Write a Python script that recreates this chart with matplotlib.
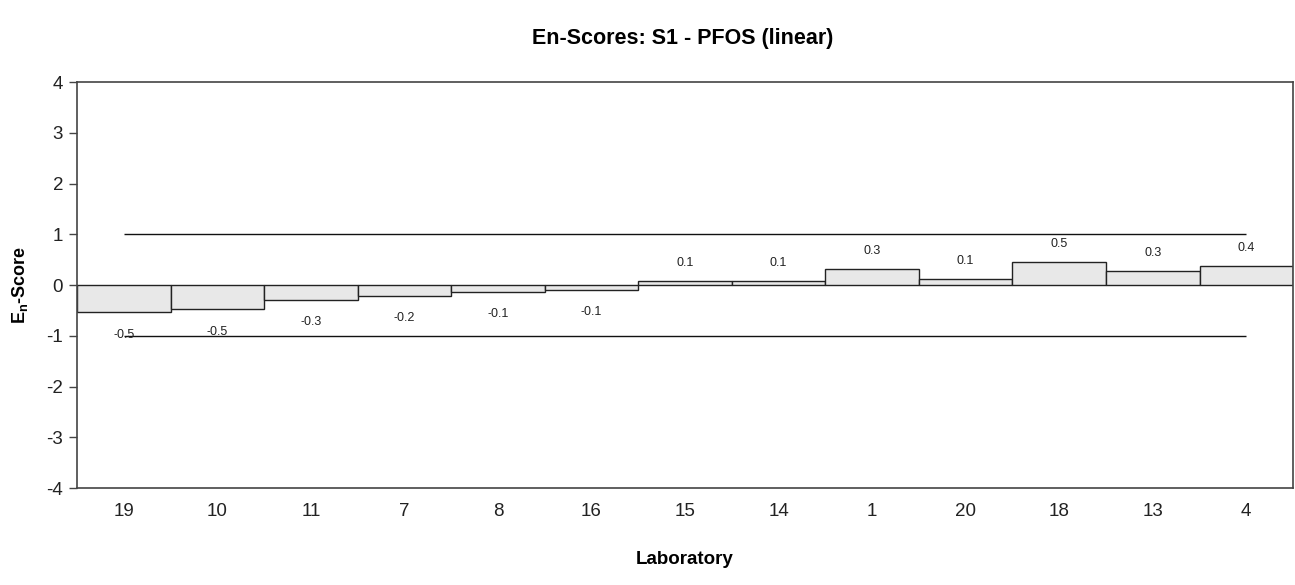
import matplotlib
matplotlib.use("Agg")
import matplotlib.pyplot as plt
import numpy as np

plt.rcParams['font.family'] = ['Liberation Sans', 'DejaVu Sans']
plt.rcParams['axes.unicode_minus'] = False

labs = ["19", "10", "11", "7", "8", "16", "15", "14", "1", "20", "18", "13", "4"]
en_scores = [-0.54, -0.48, -0.30, -0.22, -0.13, -0.10, 0.08, 0.08, 0.31, 0.12, 0.46, 0.28, 0.38]
limit = 1.0

fig = plt.figure(figsize=(12.95, 5.85), dpi=100)
ax = fig.add_axes([0.0595, 0.1658, 0.9390, 0.6940])

x = np.arange(len(labs))
ax.bar(x, en_scores, width=1.0, color="#e8e8e8", edgecolor="#222222", linewidth=1.0, zorder=2)

# acceptance limits |En| = 1
ax.hlines([limit, -limit], x[0], x[-1], colors="#111111", linewidth=1.0, zorder=3)

for xi, v in zip(x, en_scores):
    off = 13 if v >= 0 else -16
    ax.annotate(f"{v:.1f}", (xi, v), xytext=(0, off), textcoords="offset points",
                ha="center", va="center", fontsize=9, color="#222222", zorder=4)

ax.set_xlim(-0.5, len(labs) - 0.5)
ax.set_ylim(-4, 4)
ax.set_yticks(range(-4, 5))
ax.set_xticks(x)
ax.set_xticklabels(labs)
ax.tick_params(axis="x", length=0, pad=11, labelsize=13.5, labelcolor="#222222")
ax.tick_params(axis="y", length=6, width=1, labelsize=13.5, labelcolor="#222222", color="#444444", pad=4)
for s in ax.spines.values():
    s.set_color("#444444")
    s.set_linewidth(1.2)

ax.set_xlabel("Laboratory", fontsize=13.5, fontweight="bold", labelpad=22)
ax.set_ylabel("E$_\\mathregular{n}$-Score", fontsize=13, fontweight="bold", labelpad=12)
fig.text(0.5275, 0.935, "En-Scores: S1 - PFOS (linear)", ha="center", va="center",
         fontsize=15.5, fontweight="bold")

fig.savefig("out.png", dpi=100)
